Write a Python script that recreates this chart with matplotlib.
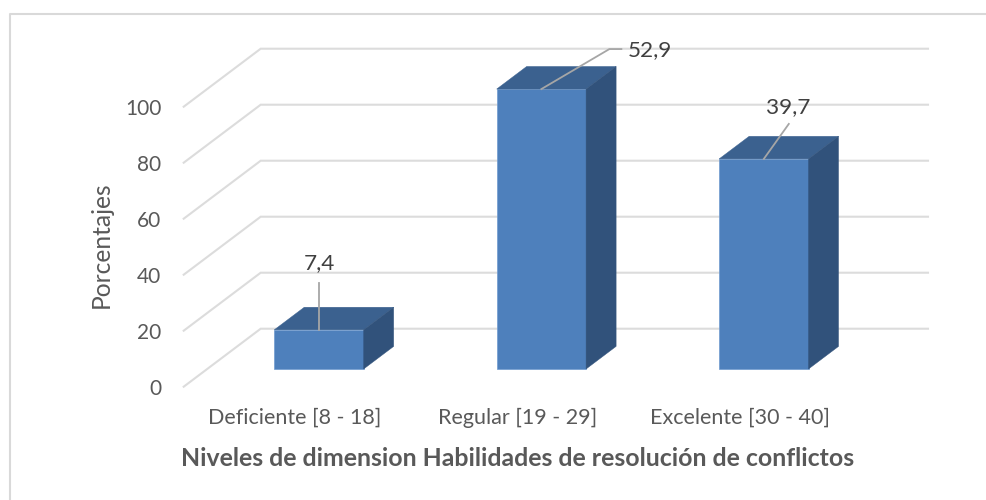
import matplotlib
matplotlib.use("Agg")
import matplotlib.pyplot as plt
from matplotlib.lines import Line2D
import numpy as np

# ---- data ----
categories = ["Deficiente [8 - 18]", "Regular [19 - 29]", "Excelente [30 - 40]"]
values = [7.4, 52.9, 39.7]
y_ticks = [0, 20, 40, 60, 80, 100]
x_title = "Niveles de dimension Habilidades de resolución de conflictos"
y_title = "Porcentajes"

# The bars in the reference are drawn against its 0-100 axis at this ratio
axis_units_per_value = 1.89

# ---- style / layout ----
W, H = 986, 500
L, R, B, T = 183.7, 928.0, 386.7, 48.7      # plot box, px
DX, DY = 77.0, 58.0                         # depth of the 3D floor, px
PX_PER_UNIT = 2.8
BAR_W = 0.402
BAR_FRONT_X = 0.312                         # bar front within the floor depth
BAR_FRONT_Y = 0.305
BAR_DEPTH = 0.39
GRID = "#DCDCDC"
TICK = "#595959"
DATA = "#404040"
LEADER = "#A6A6A6"
FRONT, TOP, SIDE = "#4E80BC", "#3B618F", "#31527B"
plt.rcParams["font.family"] = ["Lato", "DejaVu Sans"]

fig = plt.figure(figsize=(W / 100, H / 100), dpi=100, facecolor="white")
ax = fig.add_axes([L / W, 1 - B / H, (R - L) / W, (B - T) / H])
cat_px = (R - DX - L) / len(categories)
dx = DX / cat_px
dy = DY / PX_PER_UNIT
ax.set_xlim(-0.5, len(categories) - 0.5 + dx)
ax.set_ylim(0, (B - T) / PX_PER_UNIT)
for s in ax.spines.values():
    s.set_visible(False)

# gridlines on the floor side and back wall
for t in y_ticks:
    ax.plot([-0.5, -0.5 + dx, len(categories) - 0.5 + dx], [t, t + dy, t + dy],
            color=GRID, lw=1.5, zorder=1, clip_on=False, solid_joinstyle="miter")

# bars
xs = np.arange(len(categories)) + BAR_FRONT_X * dx
base = BAR_FRONT_Y * dy
heights = np.array(values) * axis_units_per_value
ddx, ddy = BAR_DEPTH * dx, BAR_DEPTH * dy
ax.bar(xs, heights, BAR_W, bottom=base, color=FRONT, edgecolor="#6F9BD0", lw=0.5, zorder=3)
for x, h in zip(xs, heights):
    l, r, tp = x - BAR_W / 2, x + BAR_W / 2, base + h
    ax.fill([l, r, r + ddx, l + ddx], [tp, tp, tp + ddy, tp + ddy], color=TOP, lw=0.3, zorder=3)
    ax.fill([r, r + ddx, r + ddx, r], [base, base + ddy, tp + ddy, tp], color=SIDE, lw=0.3, zorder=3)

# data labels with leader lines (offsets from the bar's top centre, px)
leaders = [[(0, 0), (0, 47)], [(0, 0), (68, 40), (80, 40)], [(0, 0), (25, 35)]]
label_off = [(0, 67), (109, 39), (24, 52)]
for x, h, v, path, off in zip(xs, heights, values, leaders, label_off):
    tp = base + h
    px = [x + p[0] / cat_px for p in path]
    py = [tp + p[1] / PX_PER_UNIT for p in path]
    ax.plot(px, py, color=LEADER, lw=1.3, zorder=4, clip_on=False)
    ax.text(x + off[0] / cat_px, tp + off[1] / PX_PER_UNIT, f"{v:.1f}".replace(".", ","),
            ha="center", va="center", fontsize=16.2, color=DATA, zorder=5)

# axes text
ax.set_yticks(y_ticks)
ax.set_yticklabels([str(t) for t in y_ticks], fontsize=15, color=TICK)
ax.set_xticks(np.arange(len(categories)))
ax.set_xticklabels(categories, fontsize=15.5, color=TICK)
ax.tick_params(axis="y", length=0, pad=16)
ax.tick_params(axis="x", length=0, pad=15)
ax.set_ylabel(y_title, fontsize=17.7, color=TICK)
ax.yaxis.set_label_coords((113 - L) / (R - L), (B - 245) / (B - T))
ax.set_xlabel(x_title, fontsize=17.9, fontweight="bold", color=TICK)
ax.xaxis.set_label_coords((518 - L) / (R - L), (B - 447) / (B - T))

# chart frame (top and left edges visible in the reference)
fig.add_artist(Line2D([9.5 / W, 9.5 / W, 1], [0, 1 - 13.5 / H, 1 - 13.5 / H],
                      color="#D9D9D9", lw=1.5, transform=fig.transFigure))

fig.savefig("out.png", dpi=100, facecolor="white")
